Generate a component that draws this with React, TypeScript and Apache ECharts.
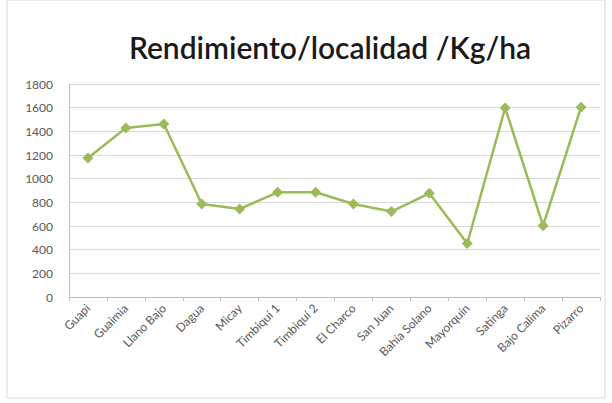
import React, { useEffect, useRef } from "react";
import * as echarts from "echarts";

const categories = [
  "Guapi", "Guaimia", "Llano Bajo", "Dagua", "Micay", "Timbiquí 1", "Timbiquí 2",
  "El Charco", "San Juan", "Bahía Solano", "Mayorquín", "Satinga", "Bajo Calima", "Pizarro",
];
const rendimiento = [1175, 1428, 1462, 786, 744, 885, 885, 786, 722, 876, 452, 1598, 603, 1604];
const titleText = "Rendimiento/localidad /Kg/ha";

export default function App() {
  const ref = useRef<HTMLDivElement>(null);
  useEffect(() => {
    if (!ref.current) return;
    const chart = echarts.init(ref.current, null, { renderer: "svg" });
    chart.setOption({
      animation: false,
      backgroundColor: "#ffffff",
      title: {
        text: titleText,
        left: 325,
        textAlign: "center",
        top: 27,
        textStyle: { fontFamily: "Lato", fontSize: 30, fontWeight: 600, color: "#1a1a1a" },
      },
      grid: { left: 69, right: 12, top: 84, bottom: 106 },
      xAxis: {
        type: "category",
        data: categories,
        boundaryGap: true,
        axisLine: { lineStyle: { color: "#bfbfbf", width: 1 } },
        axisTick: { show: true, length: 4, lineStyle: { color: "#bfbfbf" } },
        axisLabel: {
          rotate: 45,
          interval: 0,
          fontFamily: "Lato",
          fontSize: 12,
          color: "#595959",
          margin: 9,
        },
      },
      yAxis: {
        type: "value",
        min: 0,
        max: 1800,
        interval: 200,
        axisLine: { show: true, lineStyle: { color: "#bfbfbf" } },
        axisTick: { show: false },
        splitLine: { lineStyle: { color: "#d9d9d9", width: 1 } },
        axisLabel: {
          fontFamily: "Lato",
          fontSize: 12,
          color: "#595959",
          margin: 16,
          formatter: (v: number) => String(v),
        },
      },
      series: [
        {
          type: "line",
          data: rendimiento,
          symbol: "diamond",
          symbolSize: 11,
          lineStyle: { color: "#9bbb59", width: 2.5 },
          itemStyle: { color: "#9bbb59" },
        },
      ],
      graphic: [
        {
          type: "rect",
          shape: { x: 7, y: 0, width: 598, height: 398 },
          style: { fill: "none", stroke: "#d9d9d9", lineWidth: 1 },
          silent: true,
        },
      ],
    });
    return () => chart.dispose();
  }, []);
  return <div ref={ref} style={{ width: 612, height: 403, position: "absolute", left: 0, top: 0 }} />;
}
